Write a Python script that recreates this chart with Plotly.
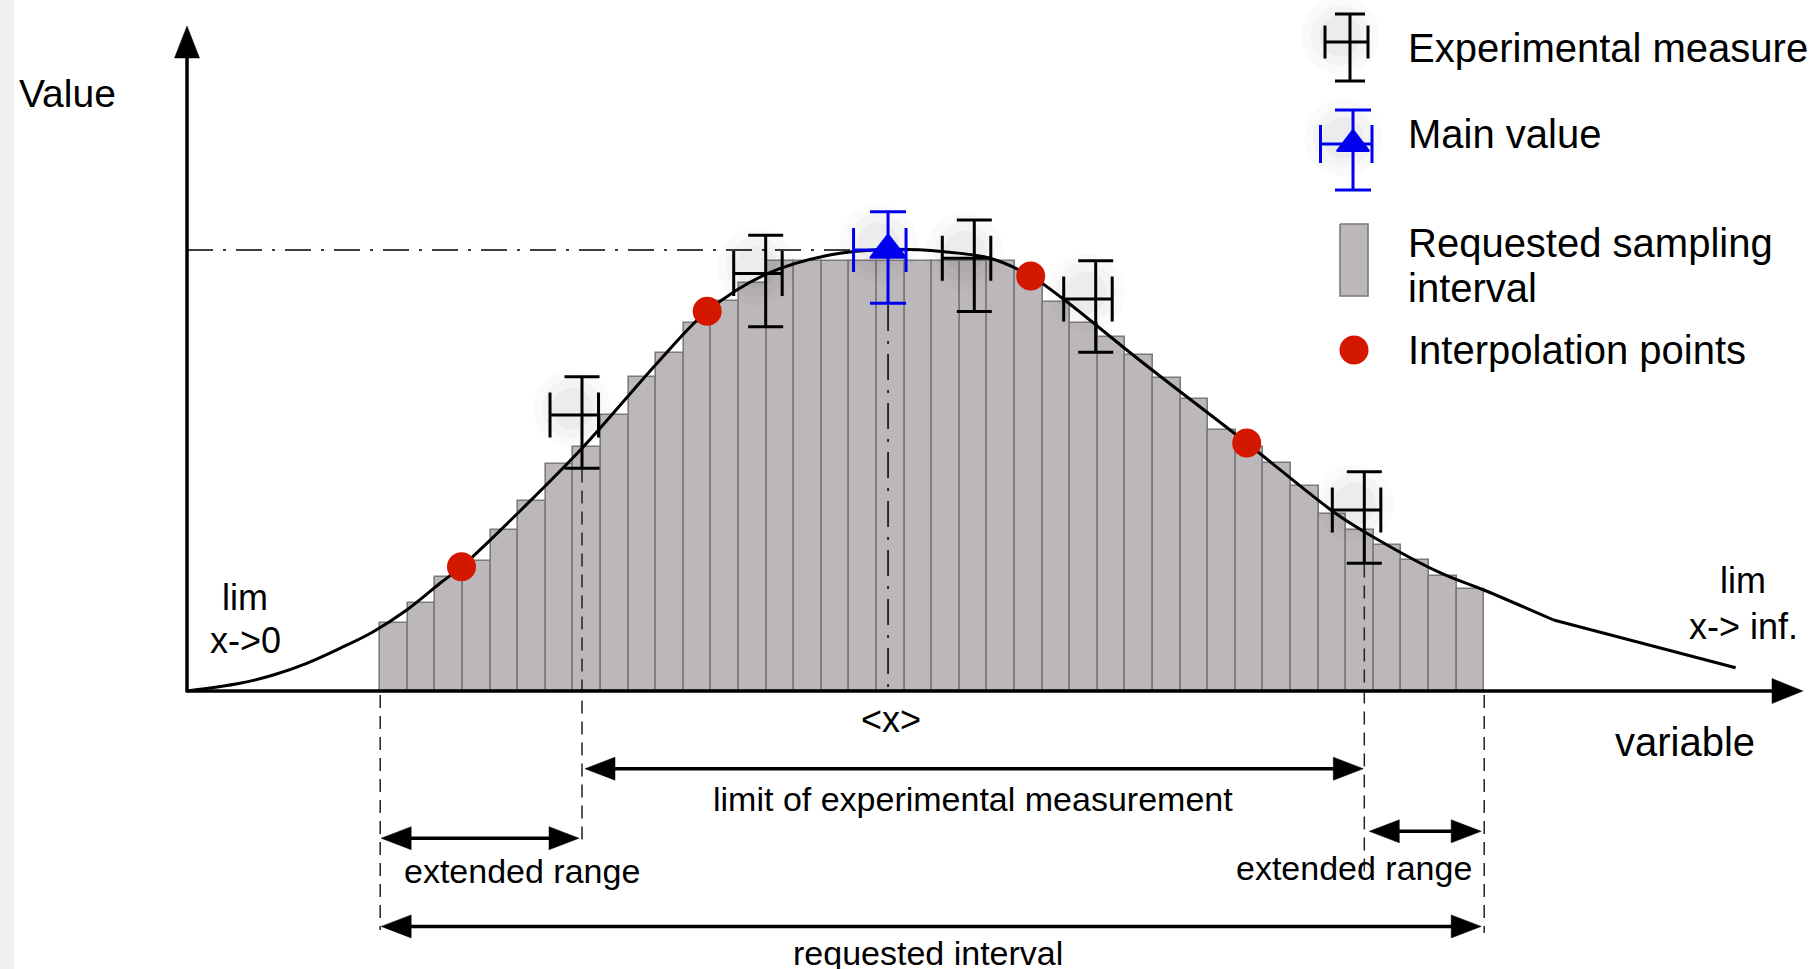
import math
import plotly.graph_objects as go

# ---------------- data (arbitrary units) ----------------
# 40 requested sampling intervals (unit width), left edges
bin_left_edges = list(range(7, 47))
bin_heights = [15.7, 20.5, 26.4, 30.3, 37.4, 44.2, 52.8, 56.7, 64.3, 73.0,
               78.5, 85.5, 90.7, 95.0, 100.1, 100.1, 100.1, 100.1, 100.1, 100.1,
               100.1, 100.1, 100.1, 98.0, 90.5, 85.5, 82.4, 78.1, 72.9, 67.8,
               60.7, 56.8, 53.0, 47.7, 41.1, 37.4, 34.0, 30.4, 26.8, 23.7]

curve_x = [0.0, 1.920, 3.127, 4.337, 5.543, 6.750, 7.960, 9.167, 9.946, 12.065,
           14.312, 17.138, 18.848, 20.967, 23.283, 25.290, 27.428, 29.094, 30.569,
           31.714, 34.482, 38.395, 41.533, 42.656, 45.399, 46.986, 49.514]
curve_y = [0.0, 1.791, 3.721, 6.442, 9.930, 13.791, 18.837, 25.047, 28.907, 41.860,
           56.442, 76.977, 88.326, 96.907, 101.395, 102.674, 102.163, 100.628, 96.512,
           91.326, 77.093, 57.674, 41.698, 37.047, 27.512, 23.488, 16.512]
tail_x = [49.514, 56.109]
tail_y = [16.512, 5.395]

interp_x = [9.946, 18.848, 30.569, 38.395]
interp_y = [28.907, 88.326, 96.512, 57.674]

exp_x = [14.312, 20.967, 28.525, 32.924, 42.656]
exp_y = [64.186, 97.093, 100.628, 91.163, 42.093]
exp_err_x_minus, exp_err_x_plus = 1.159, 0.598
exp_err_y_minus, exp_err_y_plus = 12.395, 8.907

main_x = [25.40]
main_y = [102.558]
main_err_x_minus, main_err_x_plus = 1.25, 0.652

# ---------------- layout helpers ----------------
W, H = 1818, 969
OX, OY, XU, YU = 187.0, 691.0, 27.6, 4.3   # origin (px) and px per unit


def dx(px):
    return (px - OX) / XU


def dy(py):
    return (OY - py) / YU


def px_of_x(x):
    return OX + x * XU


def py_of_y(y):
    return OY - y * YU


FONT = "Liberation Sans, Arial, Helvetica, sans-serif"
fig = go.Figure()

# bars
fig.add_trace(go.Bar(
    x=[e + 0.5 for e in bin_left_edges], y=bin_heights, width=1.0,
    marker=dict(color="#bbb7bb", line=dict(color="#7b7b7b", width=1.6)),
    hoverinfo="skip"))


def seg(xs, ys, color="black", width=1.5, dash=None, shape="linear"):
    fig.add_trace(go.Scatter(x=xs, y=ys, mode="lines",
                             line=dict(color=color, width=width, dash=dash, shape=shape),
                             hoverinfo="skip"))


# dashed vertical lines (requested interval bounds and measurement limits)
DASH = "13px,8px"
req_lo, req_hi = bin_left_edges[0], bin_left_edges[-1] + 1
seg([req_lo, req_lo], [dy(695), dy(930)], "#222", 1.5, DASH)
seg([req_hi, req_hi], [dy(695), dy(933)], "#222", 1.5, DASH)
lo_m, hi_m = exp_x[0], exp_x[-1]
seg([lo_m, lo_m], [exp_y[0] - exp_err_y_minus - 0.3, dy(843)], "#222", 1.5, DASH)
seg([hi_m, hi_m], [exp_y[-1] - exp_err_y_minus - 0.3, dy(878)], "#222", 1.5, DASH)

# dash-dot guides to main value
DD = "26px,10px,3px,10px"
seg([0, main_x[0] - 0.6], [main_y[0], main_y[0]], "black", 1.5, DD)
seg([main_x[0], main_x[0]], [main_y[0] - exp_err_y_minus - 0.4, 0], "black", 1.5, DD)

# curve
seg(curve_x, curve_y, "black", 3, None, "spline")
seg(tail_x, tail_y, "black", 3)


# arrows
def add_arrow(p0, p1, heads=("end",), L=30, HW=11.5, lw=3.5):
    (x0, y0), (x1, y1) = p0, p1
    ux, uy = x1 - x0, y1 - y0
    n = math.hypot(ux, uy)
    ux, uy = ux / n, uy / n
    nx, ny = -uy, ux
    sx, sy, ex, ey = x0, y0, x1, y1
    if "start" in heads:
        sx, sy = x0 + ux * L * 0.6, y0 + uy * L * 0.6
    if "end" in heads:
        ex, ey = x1 - ux * L * 0.6, y1 - uy * L * 0.6
    seg([dx(sx), dx(ex)], [dy(sy), dy(ey)], "black", lw)
    for h in heads:
        if h == "end":
            tx, ty, d = x1, y1, 1
        else:
            tx, ty, d = x0, y0, -1
        bx, by = tx - d * ux * L, ty - d * uy * L
        pts = [(tx, ty), (bx + nx * HW, by + ny * HW), (bx - nx * HW, by - ny * HW), (tx, ty)]
        fig.add_trace(go.Scatter(x=[dx(p[0]) for p in pts], y=[dy(p[1]) for p in pts],
                                 mode="lines", fill="toself", fillcolor="black",
                                 line=dict(color="black", width=0.5), hoverinfo="skip"))


# axes
add_arrow((OX, OY), (1803, OY), ("end",), L=31, HW=12.5, lw=3.5)
add_arrow((OX, OY + 1.5), (OX, 26), ("end",), L=32, HW=12.5, lw=3.5)

# dimension arrows
lo_px, hi_px = px_of_x(lo_m), px_of_x(hi_m)
rq_lo_px, rq_hi_px = px_of_x(req_lo), px_of_x(req_hi)
add_arrow((lo_px + 3, 768.7), (hi_px - 1, 768.7), ("start", "end"))
add_arrow((rq_lo_px + 1, 838.2), (lo_px - 3, 838.2), ("start", "end"))
add_arrow((hi_px + 5, 831.3), (rq_hi_px - 3, 831.3), ("start", "end"))
add_arrow((rq_lo_px + 1, 926.4), (rq_hi_px - 3, 926.4), ("start", "end"))

# interpolation points
fig.add_trace(go.Scatter(x=interp_x, y=interp_y, mode="markers",
                         marker=dict(size=29, color="#d41800", line=dict(width=0)),
                         hoverinfo="skip"))


# soft drop-shadow glow behind the error-bar crosses
def glow(xs, ys):
    for s, a in ((78, 0.018), (60, 0.022), (42, 0.03)):
        fig.add_trace(go.Scatter(
            x=[x - 0.35 for x in xs], y=[y + 1.5 for y in ys], mode="markers",
            marker=dict(size=s, color="rgba(0,0,0,%.3f)" % a, line=dict(width=0)),
            hoverinfo="skip"))


glow(exp_x, exp_y)
glow(main_x, main_y)
glow([dx(1350)], [dy(42)])
glow([dx(1353)], [dy(144)])

# experimental measures
fig.add_trace(go.Scatter(
    x=exp_x, y=exp_y, mode="markers",
    marker=dict(size=1, color="rgba(0,0,0,0)"),
    error_x=dict(type="data", symmetric=False, array=[exp_err_x_plus] * len(exp_x),
                 arrayminus=[exp_err_x_minus] * len(exp_x), color="black",
                 thickness=3, width=22.5),
    error_y=dict(type="data", symmetric=False, array=[exp_err_y_plus] * len(exp_x),
                 arrayminus=[exp_err_y_minus] * len(exp_x), color="black",
                 thickness=3, width=17.5),
    hoverinfo="skip"))

# main value
BLUE = "#0000ee"
fig.add_trace(go.Scatter(
    x=main_x, y=main_y, mode="markers",
    marker=dict(symbol="triangle-up", size=31, color=BLUE, line=dict(color=BLUE, width=2)),
    error_x=dict(type="data", symmetric=False, array=[main_err_x_plus],
                 arrayminus=[main_err_x_minus], color=BLUE, thickness=3, width=22),
    error_y=dict(type="data", symmetric=False, array=[exp_err_y_plus],
                 arrayminus=[exp_err_y_minus], color=BLUE, thickness=3, width=18),
    hoverinfo="skip"))

# ---------------- legend (drawn manually) ----------------
fig.add_trace(go.Scatter(
    x=[dx(1350)], y=[dy(42)], mode="markers", marker=dict(size=1, color="rgba(0,0,0,0)"),
    error_x=dict(type="data", symmetric=False, array=[18 / XU], arrayminus=[25 / XU],
                 color="black", thickness=3, width=16.5),
    error_y=dict(type="data", symmetric=False, array=[28 / YU], arrayminus=[39 / YU],
                 color="black", thickness=3, width=15),
    hoverinfo="skip"))
fig.add_trace(go.Scatter(
    x=[dx(1353)], y=[dy(144)], mode="markers",
    marker=dict(symbol="triangle-up", size=28, color=BLUE, line=dict(color=BLUE, width=2)),
    error_x=dict(type="data", symmetric=False, array=[19 / XU], arrayminus=[32.5 / XU],
                 color=BLUE, thickness=3, width=19),
    error_y=dict(type="data", symmetric=False, array=[34 / YU], arrayminus=[46 / YU],
                 color=BLUE, thickness=3, width=18),
    hoverinfo="skip"))
fig.add_trace(go.Scatter(
    x=[dx(1340), dx(1368), dx(1368), dx(1340), dx(1340)],
    y=[dy(224), dy(224), dy(296), dy(296), dy(224)],
    mode="lines", fill="toself", fillcolor="#bbb7bb",
    line=dict(color="#7b7b7b", width=1.6), hoverinfo="skip"))
fig.add_trace(go.Scatter(x=[dx(1354)], y=[dy(350)], mode="markers",
                         marker=dict(size=29, color="#d41800"), hoverinfo="skip"))

annotations = []


def text(t, px, py, size, anchor="center"):
    annotations.append(dict(text=t, x=px / W, y=1 - py / H, xref="paper", yref="paper",
                            xanchor=anchor, yanchor="middle", showarrow=False,
                            font=dict(family=FONT, size=size, color="black")))


text("Value", 67, 93, 39)
text("variable", 1685, 742, 40)
text("&lt;x&gt;", 891, 719, 36)
text("lim", 245, 597, 36)
text("x-&gt;0", 245, 640, 36)
text("lim", 1743, 580, 36)
text("x-&gt; inf.", 1743, 626, 36)
text("limit of experimental measurement", 973, 799, 34)
text("extended range", 522, 871, 34)
text("extended range", 1354, 868, 34)
text("requested interval", 928, 953, 34)
LX = 1406
text("Experimental measure", LX, 48, 40, "left")
text("Main value", LX, 134, 40, "left")
text("Requested sampling", LX, 243, 40, "left")
text("interval", LX, 288, 40, "left")
text("Interpolation points", LX, 350, 40, "left")

fig.update_layout(
    width=W, height=H, margin=dict(l=0, r=0, t=0, b=0, pad=0),
    paper_bgcolor="white", plot_bgcolor="white", showlegend=False,
    xaxis=dict(range=[dx(0), dx(W)], visible=False, fixedrange=True),
    yaxis=dict(range=[dy(H), dy(0)], visible=False, fixedrange=True),
    bargap=0, annotations=annotations,
    shapes=[dict(type="rect", xref="paper", yref="paper", x0=0, x1=14 / W, y0=0, y1=1,
                 fillcolor="#efefef", line=dict(width=0), layer="below")],
)

fig.write_html("out.html", config={"displayModeBar": False},
               post_script="document.body.style.margin='0';document.body.style.overflow='hidden';")
